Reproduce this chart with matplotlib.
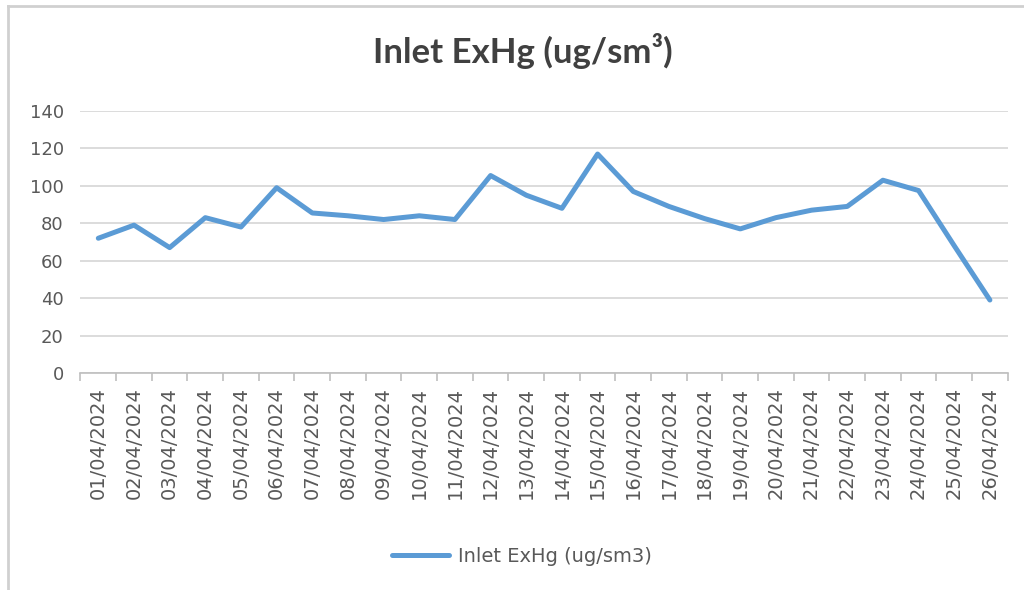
import matplotlib
matplotlib.use("Agg")
import matplotlib.pyplot as plt
from matplotlib.lines import Line2D
import numpy as np

# daily inlet elemental mercury readings, April 2024
dates = [f"{d:02d}/04/2024" for d in range(1, 27)]
values = [72, 79, 67, 83, 78, 99, 85.5, 84, 82, 84, 82, 105.5, 95, 88,
          117, 97, 89, 82.5, 77, 83, 87, 89, 103, 97.5, 68, 39]
y_ticks = [0, 20, 40, 60, 80, 100, 120, 140]

title = "Inlet ExHg (ug/sm³)"
series_label = "Inlet ExHg (ug/sm3)"

LINE = "#5B9BD5"
GRID = "#D9D9D9"
TEXT = "#595959"

fig = plt.figure(figsize=(10.24, 5.9), dpi=100)
ax = fig.add_axes([0.0786, 0.3678, 0.9055, 0.4441])

x = np.arange(len(dates))
ax.plot(x, values, color=LINE, lw=3.6, solid_capstyle="round",
        solid_joinstyle="round", label=series_label, zorder=3)

ax.set_xlim(-0.5, len(dates) - 0.5)
ax.set_ylim(0, 140)
ax.set_yticks(y_ticks)
ax.yaxis.grid(True, color=GRID, lw=1.3)
ax.set_axisbelow(True)

# category labels centred, tick marks on the category boundaries
ax.set_xticks(x)
ax.set_xticklabels(dates, rotation=90, color=TEXT, fontsize=14)
ax.set_xticks(np.arange(-0.5, len(dates)), minor=True)
ax.tick_params(axis="x", which="major", length=0, pad=10)
ax.tick_params(axis="x", which="minor", length=6, width=1.2, color="#BFBFBF",
               direction="out")
ax.tick_params(axis="y", length=0, pad=12, labelcolor=TEXT, labelsize=13)

for side in ("left", "right", "top"):
    ax.spines[side].set_visible(False)
ax.spines["bottom"].set_color("#BFBFBF")
ax.spines["bottom"].set_linewidth(1.2)

fig.text(0.511, 0.913, title, ha="center", va="center", fontsize=25,
         fontweight="bold", color="#404040", family=["Lato", "DejaVu Sans"])

fig.legend(loc="center", bbox_to_anchor=(0.51, 0.0576), frameon=False,
           fontsize=14, labelcolor=TEXT, handlelength=2.9, handletextpad=0.5)

# chart area frame (left and top edges)
fig.add_artist(Line2D([8 / 1024, 8 / 1024], [0, 1 - 6 / 590],
                      transform=fig.transFigure, color="#D0D0D0", lw=2))
fig.add_artist(Line2D([8 / 1024, 1], [1 - 6 / 590, 1 - 6 / 590],
                      transform=fig.transFigure, color="#D0D0D0", lw=2))

fig.savefig("out.png", dpi=100, facecolor="white")
